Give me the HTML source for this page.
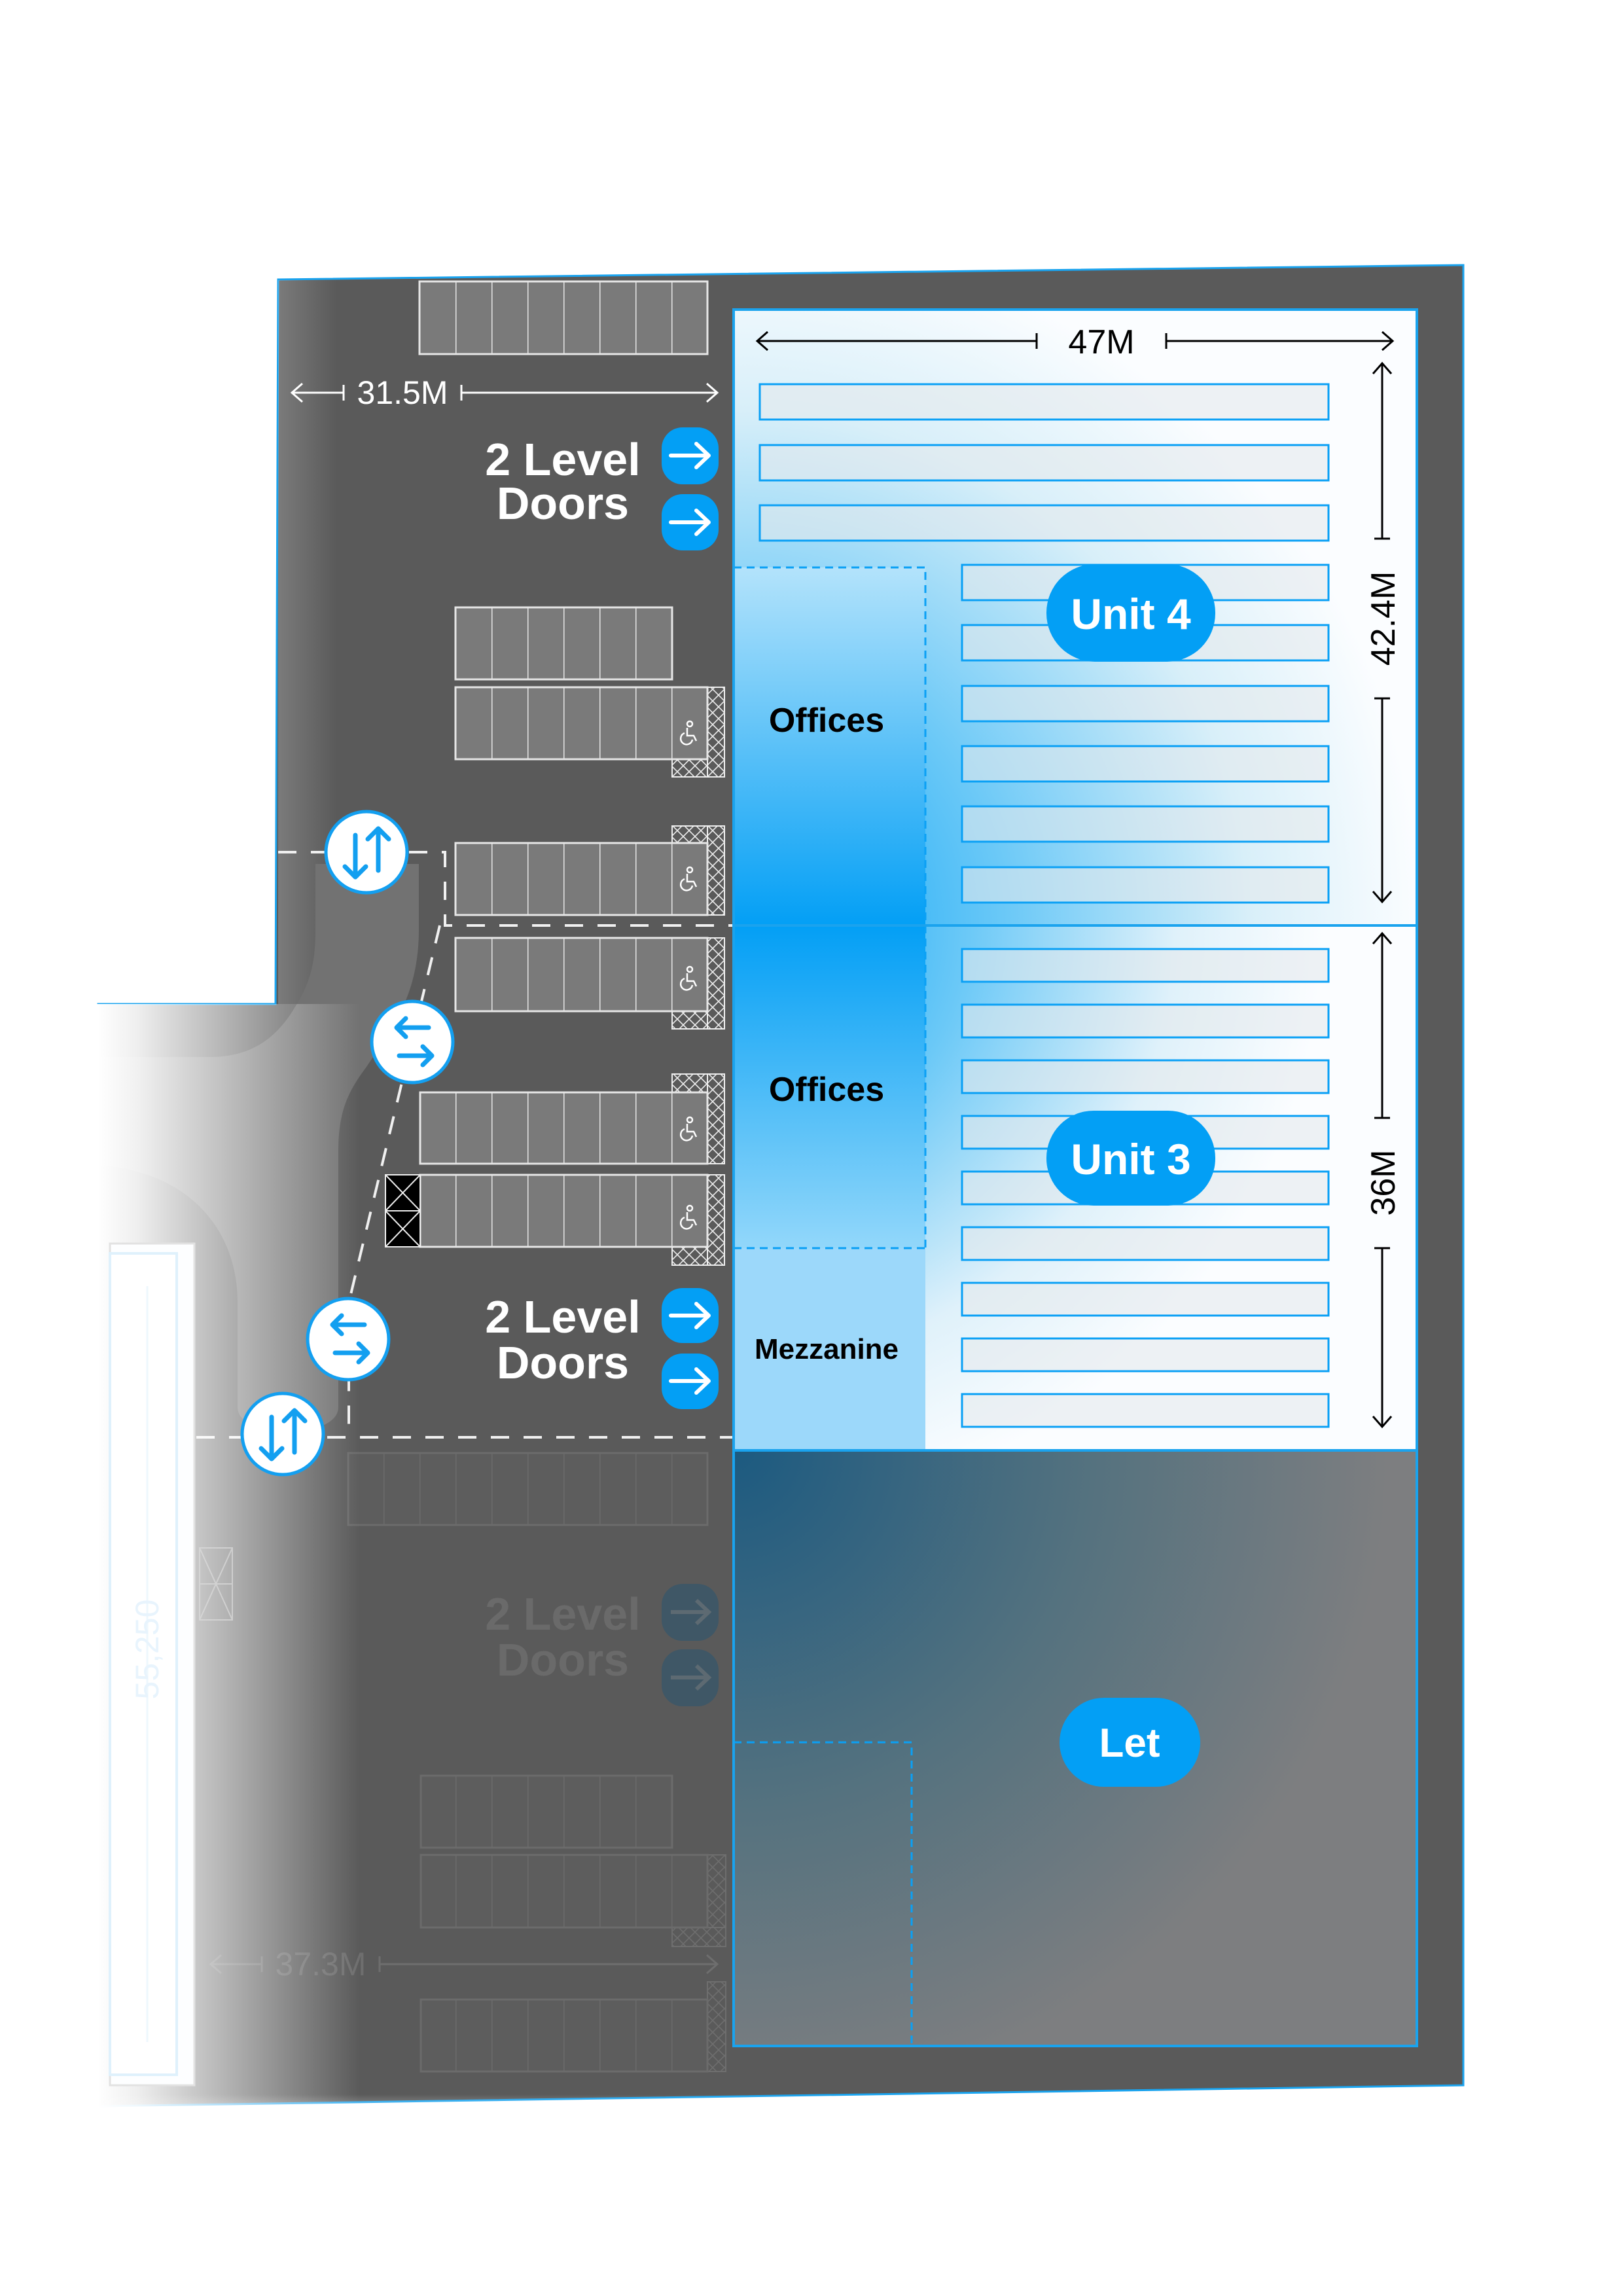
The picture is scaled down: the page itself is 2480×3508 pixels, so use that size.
<!DOCTYPE html>
<html><head><meta charset="utf-8"><style>
html,body{margin:0;padding:0;background:#fff}
svg{display:block}
text{font-family:"Liberation Sans",Arial,sans-serif}
</style></head><body>
<svg width="2480" height="3508" viewBox="0 0 2480 3508" xmlns="http://www.w3.org/2000/svg">
<defs>
<pattern id="st" x="36" y="0" width="55" height="400" patternUnits="userSpaceOnUse">
<rect width="55" height="400" fill="#7a7a7a"/><line x1="0" y1="0" x2="0" y2="400" stroke="#e6e6e6" stroke-width="3"/></pattern>
<pattern id="gst" x="36" y="0" width="55" height="400" patternUnits="userSpaceOnUse">
<rect width="55" height="400" fill="#5d5d5d"/><line x1="0" y1="0" x2="0" y2="400" stroke="#6b6b6b" stroke-width="3"/></pattern>
<pattern id="hx" width="18" height="18" patternUnits="userSpaceOnUse">
<rect width="18" height="18" fill="#5a5a5a"/><path d="M0 0L18 18M18 0L0 18" stroke="#eee" stroke-width="1.6"/></pattern>
<pattern id="ghx" width="18" height="18" patternUnits="userSpaceOnUse">
<rect width="18" height="18" fill="#5a5a5a"/><path d="M0 0L18 18M18 0L0 18" stroke="#6e6e6e" stroke-width="1.6"/></pattern>
<linearGradient id="fade" x1="0" x2="1" y1="0" y2="0">
<stop offset="0" stop-color="#fff" stop-opacity="1"/><stop offset="0.15" stop-color="#fff" stop-opacity="0.9"/><stop offset="1" stop-color="#fff" stop-opacity="0"/></linearGradient>
<linearGradient id="fade2" x1="0" x2="1"><stop offset="0" stop-color="#fff" stop-opacity="0.2"/><stop offset="1" stop-color="#fff" stop-opacity="0"/></linearGradient>
<linearGradient id="bfade" x1="0" x2="0" y1="0" y2="1"><stop offset="0" stop-color="#fff" stop-opacity="0"/><stop offset="1" stop-color="#fff" stop-opacity="0.9"/></linearGradient>
<radialGradient id="u4" cx="1121" cy="1414" r="1050" gradientUnits="userSpaceOnUse">
<stop offset="0" stop-color="#00a0f6"/><stop offset="0.4" stop-color="#6cc9f7"/><stop offset="0.75" stop-color="#d8eff9"/><stop offset="1" stop-color="#fbfdff"/></radialGradient>
<radialGradient id="u3" cx="1121" cy="1414" r="900" gradientUnits="userSpaceOnUse">
<stop offset="0" stop-color="#00a0f6"/><stop offset="0.4" stop-color="#6cc9f7"/><stop offset="0.75" stop-color="#dff1fa"/><stop offset="1" stop-color="#fbfdff"/></radialGradient>
<linearGradient id="of4" x1="0" x2="0" y1="0" y2="1"><stop offset="0" stop-color="#b3e3fb"/><stop offset="1" stop-color="#039ff5"/></linearGradient>
<linearGradient id="of3" x1="0" x2="0" y1="0" y2="1"><stop offset="0" stop-color="#039ff5"/><stop offset="1" stop-color="#92d7fa"/></linearGradient>
<radialGradient id="let" cx="1121" cy="2216" r="1000" gradientUnits="userSpaceOnUse">
<stop offset="0" stop-color="#1c5a80"/><stop offset="0.55" stop-color="#55727f"/><stop offset="1" stop-color="#7d7e80"/></radialGradient>
<g id="wc" fill="none" stroke="#fff" stroke-width="2.5"><circle cx="4" cy="-14" r="4"/><path d="M0 -8V4H10L14 12M-4 0A9 9 0 1 0 8 10"/></g>
</defs>

<!-- building -->
<path d="M425 427 L2236 405 L2236 3186 L150 3218 L150 1534 L421 1534 Z" fill="#5a5a5a" stroke="#1aa3ee" stroke-width="3"/>
<rect x="425" y="428" width="90" height="1106" fill="url(#fade2)"/>
<!-- road -->
<path d="M482 1320 L640 1320 L640 1420 C640 1520 600 1570 560 1630 C530 1670 517 1700 517 1760 L517 2150 C517 2200 363 2200 363 2150 L363 1990 C363 1880 290 1790 150 1780 L150 1615 L320 1615 C380 1615 420 1590 450 1540 C475 1500 482 1470 482 1420 Z" fill="#727272"/>

<!-- top parking -->
<rect x="641" y="430" width="440" height="111" fill="url(#st)" stroke="#e6e6e6" stroke-width="3"/>
<rect x="696" y="928" width="331" height="110" fill="url(#st)" stroke="#e6e6e6" stroke-width="3"/>
<rect x="1027" y="1160" width="80" height="27" fill="url(#hx)" stroke="#eee" stroke-width="2"/>
<rect x="1081" y="1050" width="26" height="137" fill="url(#hx)" stroke="#eee" stroke-width="2"/>
<rect x="696" y="1050" width="385" height="110" fill="url(#st)" stroke="#e6e6e6" stroke-width="3"/>
<rect x="1027" y="1262" width="80" height="26" fill="url(#hx)" stroke="#eee" stroke-width="2"/>
<rect x="1081" y="1262" width="26" height="136" fill="url(#hx)" stroke="#eee" stroke-width="2"/>
<rect x="696" y="1288" width="385" height="110" fill="url(#st)" stroke="#e6e6e6" stroke-width="3"/>
<rect x="1027" y="1545" width="80" height="27" fill="url(#hx)" stroke="#eee" stroke-width="2"/>
<rect x="1081" y="1433" width="26" height="139" fill="url(#hx)" stroke="#eee" stroke-width="2"/>
<rect x="696" y="1433" width="385" height="112" fill="url(#st)" stroke="#e6e6e6" stroke-width="3"/>
<rect x="1027" y="1641" width="80" height="28" fill="url(#hx)" stroke="#eee" stroke-width="2"/>
<rect x="1081" y="1641" width="26" height="137" fill="url(#hx)" stroke="#eee" stroke-width="2"/>
<rect x="642" y="1669" width="439" height="109" fill="url(#st)" stroke="#e6e6e6" stroke-width="3"/>
<rect x="1027" y="1905" width="80" height="28" fill="url(#hx)" stroke="#eee" stroke-width="2"/>
<rect x="1081" y="1795" width="26" height="138" fill="url(#hx)" stroke="#eee" stroke-width="2"/>
<rect x="642" y="1795" width="439" height="110" fill="url(#st)" stroke="#e6e6e6" stroke-width="3"/>
<g stroke="#eee" stroke-width="2"><rect x="589" y="1795" width="53" height="55" fill="#000"/><rect x="589" y="1850" width="53" height="55" fill="#000"/>
<path d="M589 1795L642 1850M642 1795L589 1850M589 1850L642 1905M642 1850L589 1905"/></g>
<use href="#wc" x="1050" y="1120"/><use href="#wc" x="1050" y="1343"/><use href="#wc" x="1050" y="1495"/>
<use href="#wc" x="1050" y="1725"/><use href="#wc" x="1050" y="1860"/>

<!-- dashed lanes -->
<g stroke="#f0f0f0" stroke-width="4" stroke-dasharray="28 22" fill="none">
<path d="M425 1302 H680 V1414 H1120"/>
<path d="M672 1414 L533 1990 V2196"/>
<path d="M300 2196 H1120"/>
</g>

<!-- 31.5M -->
<g stroke="#fff" stroke-width="3" fill="none">
<path d="M446 600H525M525 588V612M705 588V612M705 600H1096M462 586L446 600L462 614M1080 586L1096 600L1080 614"/></g>
<text x="615" y="617" fill="#fff" font-size="50" text-anchor="middle">31.5M</text>

<!-- 2 level doors -->
<g fill="#fff" font-weight="bold" font-size="70" text-anchor="middle">
<text x="860" y="726">2 Level</text><text x="860" y="793">Doors</text>
<text x="860" y="2036">2 Level</text><text x="860" y="2106">Doors</text></g>
<g fill="#039ff5"><rect x="1011" y="653" width="87" height="87" rx="32"/><rect x="1011" y="755" width="87" height="86" rx="32"/>
<rect x="1011" y="1968" width="87" height="84" rx="32"/><rect x="1011" y="2068" width="87" height="85" rx="32"/></g>
<g stroke="#fff" stroke-width="6" fill="none" stroke-linecap="round" stroke-linejoin="round">
<path d="M1025 696H1082M1064 678L1083 696L1064 714"/><path d="M1025 798H1082M1064 780L1083 798L1064 816"/>
<path d="M1025 2010H1082M1064 1992L1083 2010L1064 2028"/><path d="M1025 2110H1082M1064 2092L1083 2110L1064 2128"/></g>

<!-- ghost lower -->
<rect x="532" y="2220" width="549" height="110" fill="url(#gst)" stroke="#6b6b6b" stroke-width="3"/>
<g fill="#6a6a6a" font-weight="bold" font-size="70" text-anchor="middle"><text x="860" y="2490">2 Level</text><text x="860" y="2560">Doors</text></g>
<g fill="#3f5766"><rect x="1011" y="2420" width="87" height="87" rx="32"/><rect x="1011" y="2520" width="87" height="87" rx="32"/></g>
<g stroke="#5d6a72" stroke-width="6" fill="none"><path d="M1025 2463H1082M1064 2445L1083 2463L1064 2481M1025 2563H1082M1064 2545L1083 2563L1064 2581"/></g>
<rect x="643" y="2713" width="384" height="110" fill="url(#gst)" stroke="#6b6b6b" stroke-width="3"/>
<rect x="1081" y="2834" width="28" height="140" fill="url(#ghx)" stroke="#6e6e6e" stroke-width="2"/>
<rect x="1027" y="2945" width="82" height="29" fill="url(#ghx)" stroke="#6e6e6e" stroke-width="2"/>
<rect x="643" y="2834" width="438" height="111" fill="url(#gst)" stroke="#6b6b6b" stroke-width="3"/>
<rect x="1081" y="3028" width="28" height="137" fill="url(#ghx)" stroke="#6e6e6e" stroke-width="2"/>
<rect x="643" y="3055" width="438" height="110" fill="url(#gst)" stroke="#6b6b6b" stroke-width="3"/>
<g stroke="#6e6e6e" stroke-width="3" fill="none"><path d="M322 3001H400M400 2989V3013M580 2989V3013M580 3001H1096M338 2987L322 3001L338 3015M1080 2987L1096 3001L1080 3015"/></g>
<text x="490" y="3018" fill="#6e6e6e" font-size="50" text-anchor="middle">37.3M</text>

<!-- left fade -->
<rect x="150" y="1534" width="400" height="1690" fill="url(#fade)"/>
<rect x="0" y="1534" width="152" height="1700" fill="#fff"/>
<rect x="168" y="1900" width="129" height="1286" fill="#fdfeff" stroke="#e2e2e2" stroke-width="3"/>
<rect x="168" y="1915" width="102" height="1255" fill="#fff" stroke="#dff1fc" stroke-width="4"/>
<path d="M225 1965V3120" stroke="#eef7fd" stroke-width="3"/>
<text transform="translate(242 2520) rotate(-90)" fill="#e8f4fd" font-size="50" text-anchor="middle">55,250</text>
<g stroke="#dcdcdc" stroke-width="2" fill="none" opacity="0.7"><rect x="305" y="2365" width="50" height="55"/><rect x="305" y="2420" width="50" height="55"/><path d="M305 2365L355 2475M355 2365L305 2475"/></g>
<rect x="100" y="3200" width="1200" height="60" fill="url(#bfade)"/>

<!-- circles -->
<g fill="#fff" stroke="#139ff0" stroke-width="5">
<circle cx="560" cy="1302" r="62"/><circle cx="630" cy="1592" r="62"/><circle cx="532" cy="2046" r="62"/><circle cx="432" cy="2191" r="62"/></g>
<g stroke="#139ff0" stroke-width="7" fill="none" stroke-linecap="round" stroke-linejoin="round">
<path d="M543 1276V1340M527 1324L543 1340L559 1324M578 1330V1266M562 1282L578 1266L594 1282"/>
<path d="M606 1570H655M620 1556L606 1570L620 1584M610 1613H660M646 1599L660 1613L646 1627"/>
<path d="M508 2024H557M522 2010L508 2024L522 2038M512 2067H562M548 2053L562 2067L548 2081"/>
<path d="M415 2165V2229M399 2213L415 2229L431 2213M450 2219V2155M434 2171L450 2155L466 2171"/>
</g>

<!-- units -->
<rect x="1121" y="473" width="1044" height="941" fill="url(#u4)"/>
<rect x="1121" y="1414" width="1044" height="802" fill="url(#u3)"/>
<rect x="1121" y="867" width="293" height="547" fill="url(#of4)"/>
<rect x="1121" y="1414" width="293" height="493" fill="url(#of3)"/>
<rect x="1121" y="1907" width="293" height="309" fill="#9cd8fa"/>
<rect x="1121" y="2216" width="1044" height="910" fill="url(#let)"/>
<g fill="none" stroke="#0aa0f5" stroke-width="3" stroke-dasharray="12 8">
<path d="M1121 867H1414V1907M1121 1907H1414"/><path d="M1121 2662H1393V3126"/></g>
<g fill="none" stroke="#1aa3ee" stroke-width="4"><rect x="1121" y="473" width="1044" height="941"/><rect x="1121" y="1414" width="1044" height="802"/><rect x="1121" y="2216" width="1044" height="910"/></g>

<!-- racks -->
<g fill="#e4e9ec" fill-opacity="0.6" stroke="#0aa0f5" stroke-width="3">
<rect x="1161" y="587" width="869" height="54"/><rect x="1161" y="680" width="869" height="54"/><rect x="1161" y="772" width="869" height="54"/>
<rect x="1470" y="863" width="560" height="54"/><rect x="1470" y="955" width="560" height="54"/><rect x="1470" y="1048" width="560" height="54"/>
<rect x="1470" y="1140" width="560" height="54"/><rect x="1470" y="1232" width="560" height="54"/><rect x="1470" y="1325" width="560" height="54"/>
<rect x="1470" y="1450" width="560" height="50"/><rect x="1470" y="1535" width="560" height="50"/><rect x="1470" y="1620" width="560" height="50"/>
<rect x="1470" y="1705" width="560" height="50"/><rect x="1470" y="1790" width="560" height="50"/><rect x="1470" y="1875" width="560" height="50"/>
<rect x="1470" y="1960" width="560" height="50"/><rect x="1470" y="2045" width="560" height="50"/><rect x="1470" y="2130" width="560" height="50"/>
</g>

<!-- dims -->
<g stroke="#000" stroke-width="3" fill="none">
<path d="M1157 521H1584M1584 509V533M1782 509V533M1782 521H2128M1173 507L1157 521L1173 535M2112 507L2128 521L2112 535"/>
<path d="M2112 555V823M2100 823H2124M2100 1067H2124M2112 1067V1378M2098 571L2112 555L2126 571M2098 1362L2112 1378L2126 1362"/>
<path d="M2112 1426V1708M2100 1708H2124M2100 1907H2124M2112 1907V2180M2098 1442L2112 1426L2126 1442M2098 2164L2112 2180L2126 2164"/>
</g>
<g fill="#000" font-size="52" text-anchor="middle">
<text x="1683" y="540">47M</text>
<text transform="translate(2131 945) rotate(-90)">42.4M</text>
<text transform="translate(2131 1807) rotate(-90)">36M</text></g>

<g fill="#000" font-weight="bold" text-anchor="middle">
<text x="1263" y="1118" font-size="52">Offices</text>
<text x="1263" y="1682" font-size="52">Offices</text>
<text x="1263" y="2076" font-size="44">Mezzanine</text></g>

<g fill="#039ff5"><rect x="1599" y="862" width="258" height="149" rx="74"/><rect x="1599" y="1697" width="258" height="145" rx="72"/>
<rect x="1619" y="2594" width="215" height="136" rx="68"/></g>
<g fill="#fff" font-weight="bold" text-anchor="middle">
<text x="1728" y="961" font-size="66">Unit 4</text><text x="1728" y="1794" font-size="66">Unit 3</text><text x="1726" y="2684" font-size="62">Let</text></g>
</svg>
</body></html>
